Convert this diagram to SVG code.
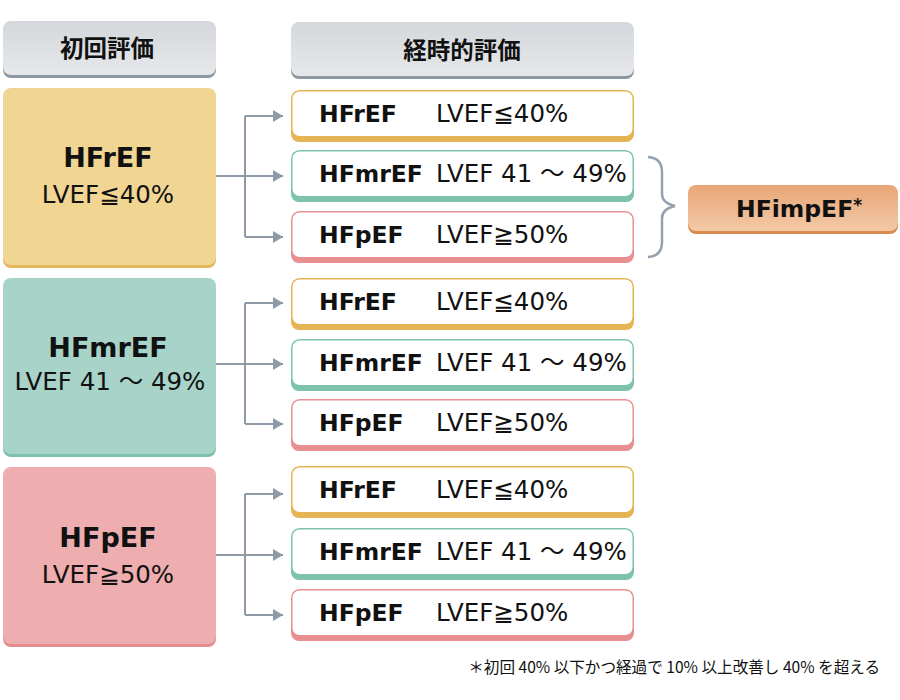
<svg xmlns="http://www.w3.org/2000/svg" width="900" height="700" viewBox="0 0 900 700">
<defs>
<linearGradient id="gHdr" x1="0" y1="0" x2="0" y2="1">
<stop offset="0" stop-color="#D4D7DB"/>
<stop offset="1" stop-color="#E6E8EA"/>
</linearGradient>
<linearGradient id="gImp" x1="0" y1="0" x2="0" y2="1">
<stop offset="0" stop-color="#E8A677"/>
<stop offset="1" stop-color="#F3C9A6"/>
</linearGradient>
<marker id="arr" markerUnits="userSpaceOnUse" markerWidth="10" markerHeight="12" viewBox="0 0 10 12" refX="10" refY="6" orient="auto">
<path d="M0,0 L10,6 L0,12 Z" fill="#8E9AA6"/>
</marker>
</defs>
<style>
text{font-family:"DejaVu Sans","Noto Sans CJK JP",sans-serif;fill:#111}
.jp{font-family:"Noto Sans CJK JP","DejaVu Sans",sans-serif;font-weight:bold;font-size:23.5px}
.big{font-weight:bold;font-size:27px}
.sub{font-size:24.5px}
.nm{font-weight:bold;font-size:23.5px}
.val{font-size:24.5px}
.conn{fill:none;stroke:#8E9AA6;stroke-width:2}
.wb{fill:#fff;stroke-width:1.5}
</style>
<rect width="900" height="700" fill="#fff"/>

<g id="hdr-initial">
<rect x="3" y="24" width="213" height="54" rx="8" fill="#8C98A4"/>
<rect x="3" y="21" width="213" height="54" rx="8" fill="url(#gHdr)"/>
<text class="jp" x="107" y="57" text-anchor="middle">初回評価</text>
</g>
<g id="hdr-followup">
<rect x="291" y="25" width="343" height="54" rx="8" fill="#8C98A4"/>
<rect x="291" y="22" width="343" height="54" rx="8" fill="url(#gHdr)"/>
<text class="jp" x="462" y="59" text-anchor="middle">経時的評価</text>
</g>

<g id="init-hfref">
<rect x="3" y="91" width="213" height="177" rx="8" fill="#E5B75A"/>
<rect x="3" y="88" width="213" height="177" rx="8" fill="#F1D593"/>
<text class="big" x="108" y="167" text-anchor="middle">HFrEF</text>
<text class="sub" x="108" y="203" text-anchor="middle">LVEF≦40%</text>
</g>
<g id="init-hfmref">
<rect x="3" y="281" width="213" height="176" rx="8" fill="#7DC0AD"/>
<rect x="3" y="278" width="213" height="176" rx="8" fill="#A7D3C8"/>
<text class="big" x="108" y="357" text-anchor="middle">HFmrEF</text>
<text class="sub" x="110" y="390" text-anchor="middle">LVEF 41 ～ 49%</text>
</g>
<g id="init-hfpef">
<rect x="3" y="470" width="213" height="177" rx="8" fill="#E48D8E"/>
<rect x="3" y="467" width="213" height="177" rx="8" fill="#EEADAE"/>
<text class="big" x="108" y="547" text-anchor="middle">HFpEF</text>
<text class="sub" x="108" y="583" text-anchor="middle">LVEF≧50%</text>
</g>

<g id="f1-hfref">
<rect x="291" y="95" width="343" height="47" rx="8" fill="#E6B455"/>
<rect class="wb" x="291.75" y="90.75" width="341.5" height="46" rx="8" stroke="#E6B455"/>
<text class="nm" x="319" y="122">HFrEF</text><text class="val" x="436" y="122">LVEF≦40%</text>
</g>
<g id="f1-hfmref">
<rect x="291" y="155" width="343" height="47" rx="8" fill="#7CC2AD"/>
<rect class="wb" x="291.75" y="150.75" width="341.5" height="46" rx="8" stroke="#7CC2AD"/>
<text class="nm" x="319" y="182">HFmrEF</text><text class="val" x="436" y="182">LVEF 41 ～ 49%</text>
</g>
<g id="f1-hfpef">
<rect x="291" y="216" width="343" height="47" rx="8" fill="#E88F90"/>
<rect class="wb" x="291.75" y="211.75" width="341.5" height="46" rx="8" stroke="#E88F90"/>
<text class="nm" x="319" y="243">HFpEF</text><text class="val" x="436" y="243">LVEF≧50%</text>
</g>

<g id="f2-hfref">
<rect x="291" y="283" width="343" height="47" rx="8" fill="#E6B455"/>
<rect class="wb" x="291.75" y="278.75" width="341.5" height="46" rx="8" stroke="#E6B455"/>
<text class="nm" x="319" y="310">HFrEF</text><text class="val" x="436" y="310">LVEF≦40%</text>
</g>
<g id="f2-hfmref">
<rect x="291" y="344" width="343" height="47" rx="8" fill="#7CC2AD"/>
<rect class="wb" x="291.75" y="339.75" width="341.5" height="46" rx="8" stroke="#7CC2AD"/>
<text class="nm" x="319" y="371">HFmrEF</text><text class="val" x="436" y="371">LVEF 41 ～ 49%</text>
</g>
<g id="f2-hfpef">
<rect x="291" y="404" width="343" height="47" rx="8" fill="#E88F90"/>
<rect class="wb" x="291.75" y="399.75" width="341.5" height="46" rx="8" stroke="#E88F90"/>
<text class="nm" x="319" y="431">HFpEF</text><text class="val" x="436" y="431">LVEF≧50%</text>
</g>

<g id="f3-hfref">
<rect x="291" y="471" width="343" height="47" rx="8" fill="#E6B455"/>
<rect class="wb" x="291.75" y="466.75" width="341.5" height="46" rx="8" stroke="#E6B455"/>
<text class="nm" x="319" y="498">HFrEF</text><text class="val" x="436" y="498">LVEF≦40%</text>
</g>
<g id="f3-hfmref">
<rect x="291" y="533" width="343" height="47" rx="8" fill="#7CC2AD"/>
<rect class="wb" x="291.75" y="528.75" width="341.5" height="46" rx="8" stroke="#7CC2AD"/>
<text class="nm" x="319" y="560">HFmrEF</text><text class="val" x="436" y="560">LVEF 41 ～ 49%</text>
</g>
<g id="f3-hfpef">
<rect x="291" y="594" width="343" height="47" rx="8" fill="#E88F90"/>
<rect class="wb" x="291.75" y="589.75" width="341.5" height="46" rx="8" stroke="#E88F90"/>
<text class="nm" x="319" y="621">HFpEF</text><text class="val" x="436" y="621">LVEF≧50%</text>
</g>

<g id="hfimpef">
<rect x="688" y="188" width="210" height="46" rx="8" fill="#D98A52"/>
<rect x="688" y="185" width="210" height="46" rx="8" fill="url(#gImp)"/>
<text x="736" y="217" style="font-weight:bold;font-size:23.5px">HFimpEF<tspan dy="-6" style="font-size:17px">*</tspan></text>
</g>

<g id="connectors">
<path class="conn" d="M216,176 H245 M245,116 V237"/>
<path class="conn" d="M245,116 H283" marker-end="url(#arr)"/>
<path class="conn" d="M245,176 H283" marker-end="url(#arr)"/>
<path class="conn" d="M245,237 H283" marker-end="url(#arr)"/>
<path class="conn" d="M216,364 H245 M245,303 V424"/>
<path class="conn" d="M245,303 H283" marker-end="url(#arr)"/>
<path class="conn" d="M245,364 H283" marker-end="url(#arr)"/>
<path class="conn" d="M245,424 H283" marker-end="url(#arr)"/>
<path class="conn" d="M216,555 H245 M245,494 V615"/>
<path class="conn" d="M245,494 H283" marker-end="url(#arr)"/>
<path class="conn" d="M245,555 H283" marker-end="url(#arr)"/>
<path class="conn" d="M245,615 H283" marker-end="url(#arr)"/>
<path d="M648,157 Q662,158 662,172 V194 Q662,203 675,206 Q662,209 662,218 V242 Q662,256 648,257" fill="none" stroke="#95A2AE" stroke-width="2.5"/>
</g>

<text x="880" y="673" text-anchor="end" style="font-family:'Noto Sans CJK JP','DejaVu Sans',sans-serif;font-size:15.6px">＊初回 40% 以下かつ経過で 10% 以上改善し 40% を超える</text>
</svg>
